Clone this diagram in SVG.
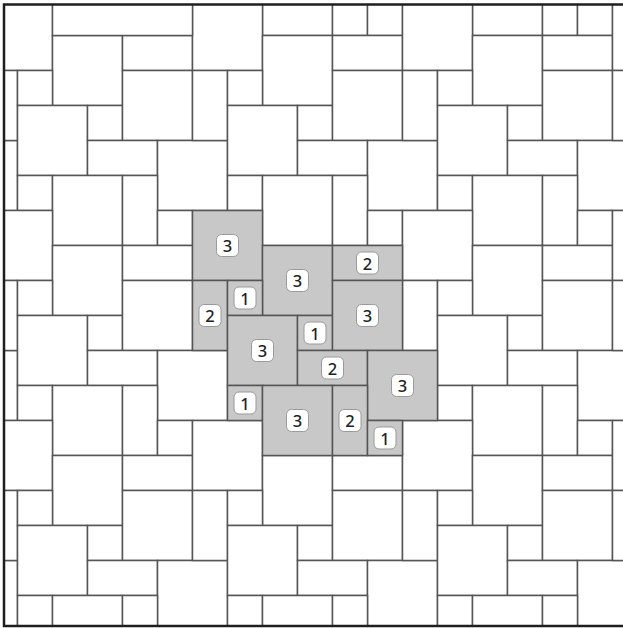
<svg xmlns="http://www.w3.org/2000/svg" xmlns:xlink="http://www.w3.org/1999/xlink" width="623" height="628" viewBox="0 0 623 628">
<style>
.t{fill:#fff;stroke:#555;stroke-width:1.5}
.h{fill:#c8c8c8;stroke:#555;stroke-width:1.5}
.b{fill:#fff;stroke:#9a9a9a;stroke-width:1}
.n{font-family:"Noto Sans","Open Sans","DejaVu Sans",sans-serif;font-size:16.5px;font-weight:500;fill:#222;text-anchor:middle;dominant-baseline:central}
</style>
<defs>
<clipPath id="clip"><rect x="4" y="4.5" width="630" height="621.5"/></clipPath>
<g id="cell">
<rect class="t" x="192.5" y="210.5" width="70" height="70"/>
<rect class="t" x="262.5" y="245.5" width="70" height="70"/>
<rect class="t" x="332.5" y="245.5" width="70" height="35"/>
<rect class="t" x="192.5" y="280.5" width="35" height="70"/>
<rect class="t" x="227.5" y="280.5" width="35" height="35"/>
<rect class="t" x="227.5" y="315.5" width="70" height="70"/>
<rect class="t" x="297.5" y="315.5" width="35" height="35"/>
<rect class="t" x="332.5" y="280.5" width="70" height="70"/>
<rect class="t" x="297.5" y="350.5" width="70" height="35"/>
<rect class="t" x="367.5" y="350.5" width="70" height="70"/>
<rect class="t" x="227.5" y="385.5" width="35" height="35"/>
<rect class="t" x="262.5" y="385.5" width="70" height="70"/>
<rect class="t" x="332.5" y="385.5" width="35" height="70"/>
<rect class="t" x="367.5" y="420.5" width="35" height="35"/>
</g>
</defs>
<rect width="623" height="628" fill="#fff"/>
<g id="tiles" clip-path="url(#clip)">
<use xlink:href="#cell" x="-420" y="-420"/><use xlink:href="#cell" x="-210" y="-420"/><use xlink:href="#cell" x="0" y="-420"/><use xlink:href="#cell" x="210" y="-420"/><use xlink:href="#cell" x="420" y="-420"/>
<use xlink:href="#cell" x="-420" y="-210"/><use xlink:href="#cell" x="-210" y="-210"/><use xlink:href="#cell" x="0" y="-210"/><use xlink:href="#cell" x="210" y="-210"/><use xlink:href="#cell" x="420" y="-210"/>
<use xlink:href="#cell" x="-420" y="0"/><use xlink:href="#cell" x="-210" y="0"/><use xlink:href="#cell" x="210" y="0"/><use xlink:href="#cell" x="420" y="0"/>
<use xlink:href="#cell" x="-420" y="210"/><use xlink:href="#cell" x="-210" y="210"/><use xlink:href="#cell" x="0" y="210"/><use xlink:href="#cell" x="210" y="210"/><use xlink:href="#cell" x="420" y="210"/>
<use xlink:href="#cell" x="-420" y="420"/><use xlink:href="#cell" x="-210" y="420"/><use xlink:href="#cell" x="0" y="420"/><use xlink:href="#cell" x="210" y="420"/><use xlink:href="#cell" x="420" y="420"/>
<rect class="t" x="52.5" y="0.5" width="140" height="35"/>
</g>
<g id="highlight">
<g id="tA"><rect class="h" x="192.5" y="210.5" width="70" height="70"/><rect class="b" x="216.5" y="234.5" width="22" height="22" rx="5"/><text class="n" x="227.5" y="245.5">3</text></g>
<g id="tB"><rect class="h" x="262.5" y="245.5" width="70" height="70"/><rect class="b" x="286.5" y="269.5" width="22" height="22" rx="5"/><text class="n" x="297.5" y="280.5">3</text></g>
<g id="tC"><rect class="h" x="332.5" y="245.5" width="70" height="35"/><rect class="b" x="356.5" y="252" width="22" height="22" rx="5"/><text class="n" x="367.5" y="263">2</text></g>
<g id="tD"><rect class="h" x="192.5" y="280.5" width="35" height="70"/><rect class="b" x="199" y="304.5" width="22" height="22" rx="5"/><text class="n" x="210" y="315.5">2</text></g>
<g id="tE"><rect class="h" x="227.5" y="280.5" width="35" height="35"/><rect class="b" x="234" y="287" width="22" height="22" rx="5"/><text class="n" x="245" y="298">1</text></g>
<g id="tF"><rect class="h" x="227.5" y="315.5" width="70" height="70"/><rect class="b" x="251.5" y="339.5" width="22" height="22" rx="5"/><text class="n" x="262.5" y="350.5">3</text></g>
<g id="tG"><rect class="h" x="297.5" y="315.5" width="35" height="35"/><rect class="b" x="304" y="322" width="22" height="22" rx="5"/><text class="n" x="315" y="333">1</text></g>
<g id="tH"><rect class="h" x="332.5" y="280.5" width="70" height="70"/><rect class="b" x="356.5" y="304.5" width="22" height="22" rx="5"/><text class="n" x="367.5" y="315.5">3</text></g>
<g id="tI"><rect class="h" x="297.5" y="350.5" width="70" height="35"/><rect class="b" x="321.5" y="357" width="22" height="22" rx="5"/><text class="n" x="332.5" y="368">2</text></g>
<g id="tJ"><rect class="h" x="367.5" y="350.5" width="70" height="70"/><rect class="b" x="391.5" y="374.5" width="22" height="22" rx="5"/><text class="n" x="402.5" y="385.5">3</text></g>
<g id="tK"><rect class="h" x="227.5" y="385.5" width="35" height="35"/><rect class="b" x="234" y="392" width="22" height="22" rx="5"/><text class="n" x="245" y="403">1</text></g>
<g id="tL"><rect class="h" x="262.5" y="385.5" width="70" height="70"/><rect class="b" x="286.5" y="409.5" width="22" height="22" rx="5"/><text class="n" x="297.5" y="420.5">3</text></g>
<g id="tM"><rect class="h" x="332.5" y="385.5" width="35" height="70"/><rect class="b" x="339" y="409.5" width="22" height="22" rx="5"/><text class="n" x="350" y="420.5">2</text></g>
<g id="tN"><rect class="h" x="367.5" y="420.5" width="35" height="35"/><rect class="b" x="374" y="427" width="22" height="22" rx="5"/><text class="n" x="385" y="438">1</text></g>
</g>
<rect id="frame" x="4" y="4.5" width="630" height="621.5" fill="none" stroke="#1e1e1e" stroke-width="2.5"/>
</svg>
